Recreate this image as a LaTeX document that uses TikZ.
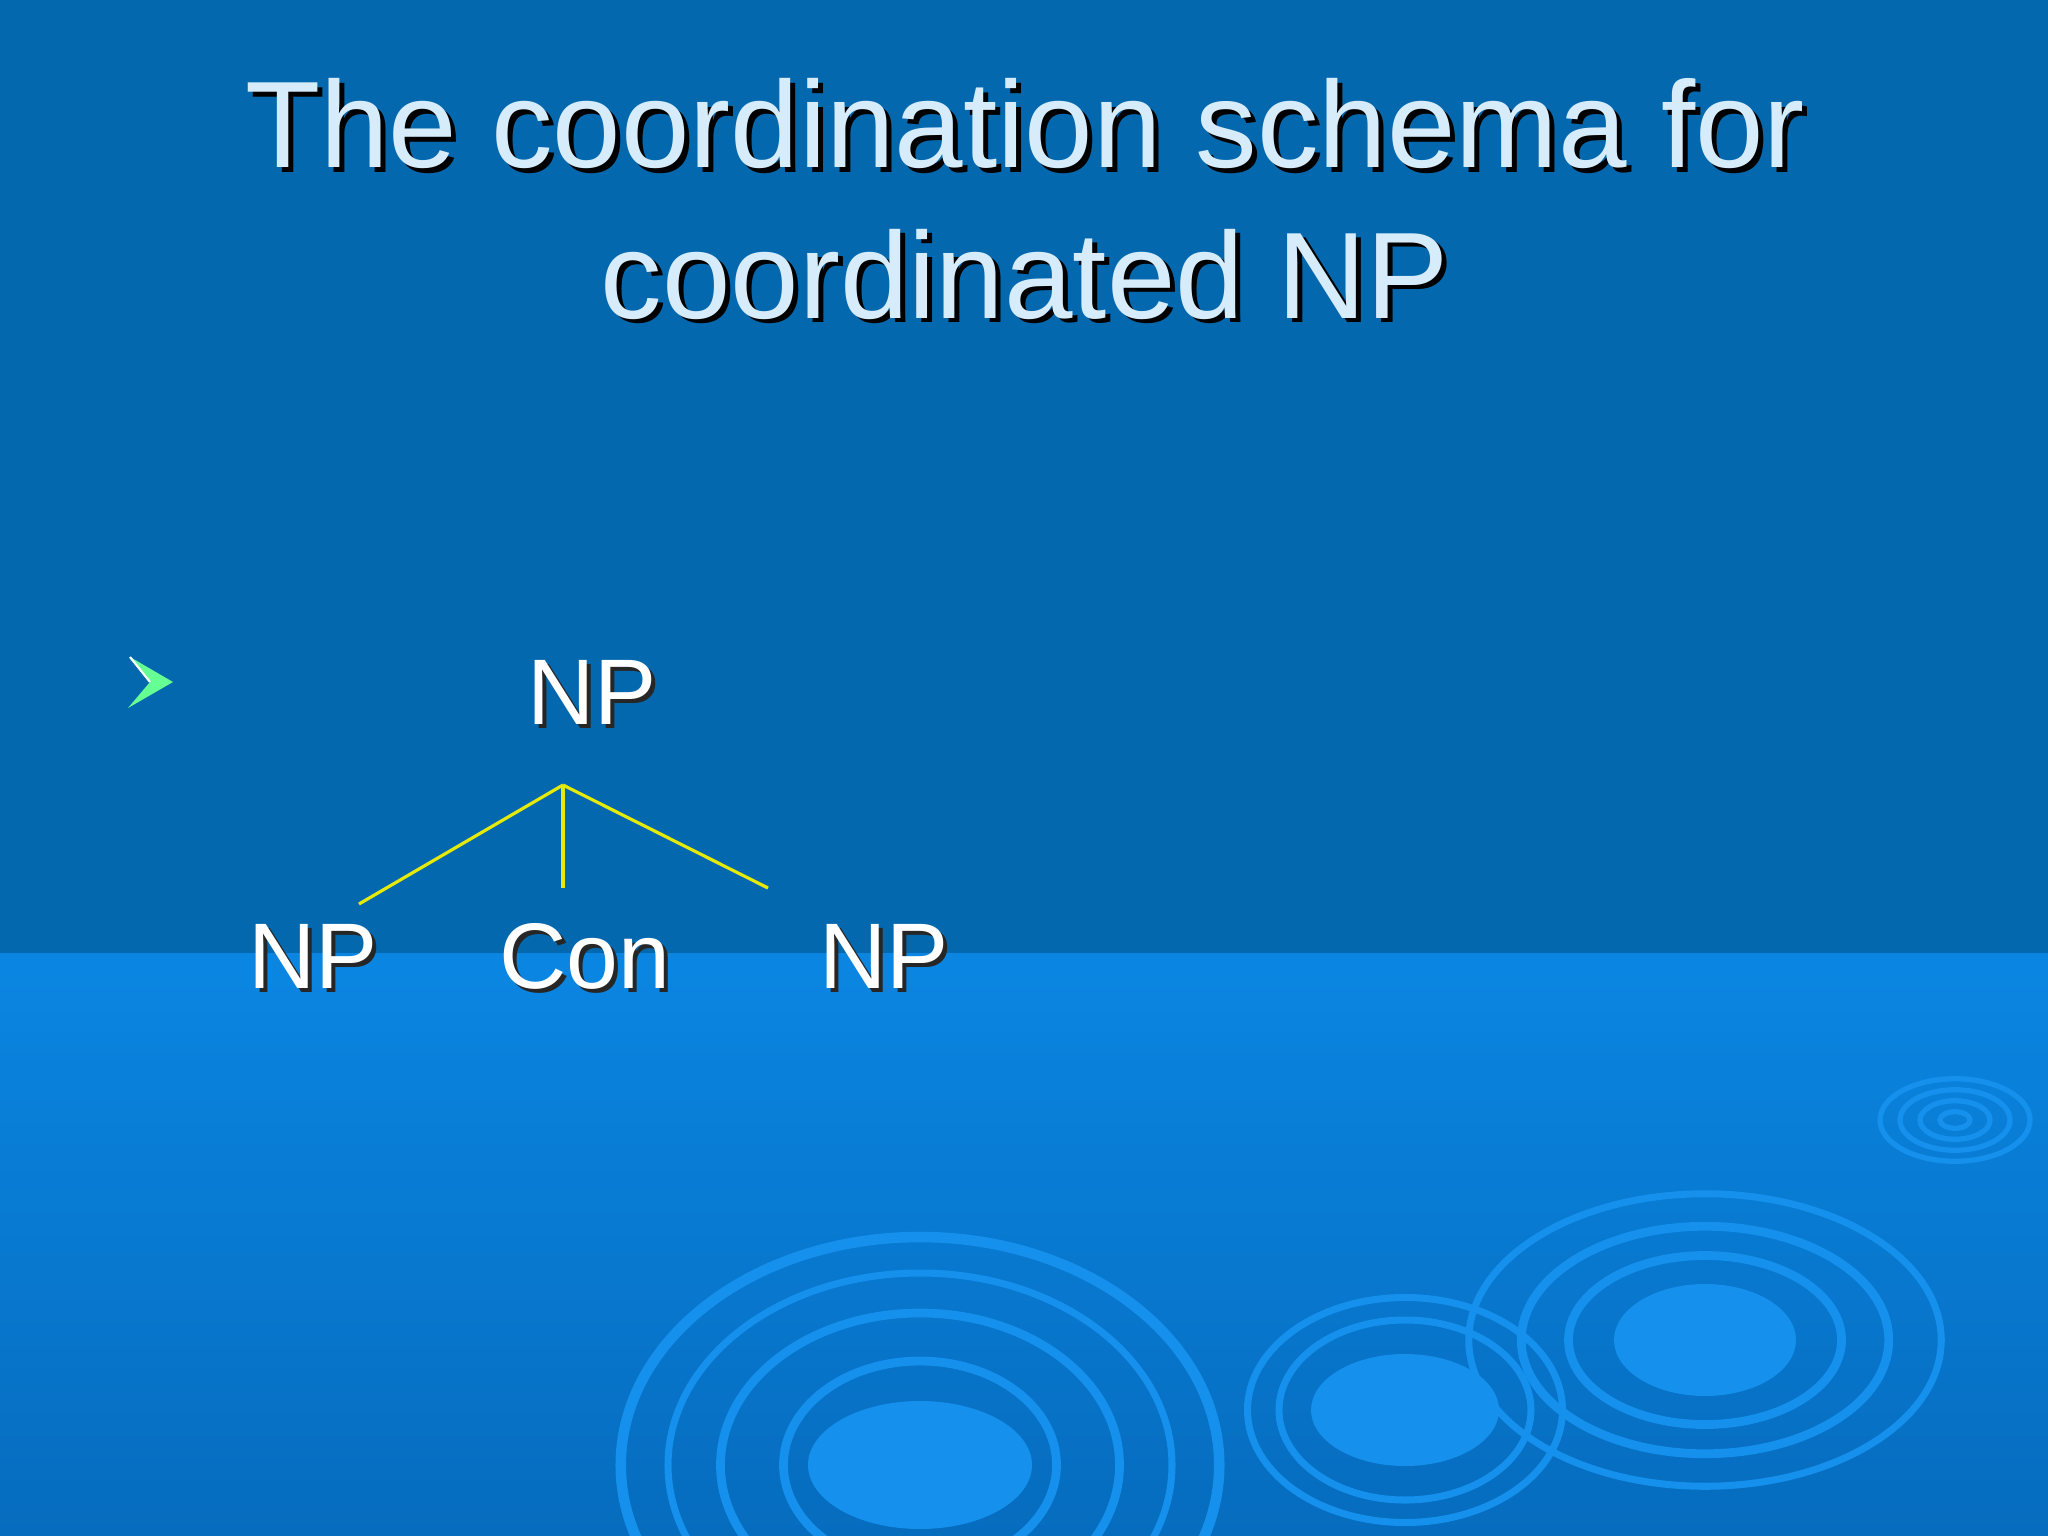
\documentclass[tikz,border=0pt]{standalone}
\usepackage{fontspec}
\setmainfont{Liberation Sans}
\begin{document}
\begin{tikzpicture}[x=0.01cm,y=-0.01cm,
  ttl/.style={text=titlec,font=\fontsize{35}{42}\selectfont},
  lab/.style={text=white,font=\fontsize{26.5}{32}\selectfont},
  shd/.style={text=black!85,font=\fontsize{26.5}{32}\selectfont},
  br/.style={draw=yellow!90!green,line width=0.9pt},
  rip/.style={draw=ripc}]
\definecolor{topc}{HTML}{0468AE}
\definecolor{botc}{HTML}{0A86E2}
\definecolor{botd}{HTML}{066CBE}
\definecolor{titlec}{HTML}{D6ECFA}
\definecolor{ripc}{HTML}{1590EC}
\useasboundingbox (0,0) rectangle (2048,1536);
\fill[topc] (0,0) rectangle (2048,953);
\shade[top color=botc,bottom color=botd] (0,953) rectangle (2048,1536);
% ripples
\begin{scope}
\clip (0,953) rectangle (2048,1536);
\fill[ripc] (920,1465) ellipse (112 and 64);
\foreach \r/\w in {130/2.5, 190/2.5, 240/2, 285/3}{
  \draw[rip,line width=\w pt] (920,1465) ellipse ({\r*1.05} and {\r*0.8});}
\fill[ripc] (1405,1410) ellipse (94 and 56);
\foreach \r/\w in {120/2, 150/2}{
  \draw[rip,line width=\w pt] (1405,1410) ellipse ({\r*1.05} and {\r*0.75});}
\fill[ripc] (1705,1340) ellipse (91 and 56);
\foreach \r/\w in {130/2.5, 175/2.5, 225/2}{
  \draw[rip,line width=\w pt] (1705,1340) ellipse ({\r*1.05} and {\r*0.65});}
\foreach \r in {15,35,55,75}{
  \draw[ripc,line width=1.5pt] (1955,1120) ellipse ({\r} and {\r*0.55});}
\end{scope}
% title
\foreach \t/\y in {{The coordination schema for}/124, {coordinated NP}/274}{
  \node[ttl,text=black] at (1030,\y+5) {\t};
  \node[ttl] at (1025,\y) {\t};}
% bullet
\fill[green!70!cyan!60] (130,657) -- (173,682) -- (128,708) -- (150,682) -- cycle;
\draw[white,line width=0.6pt] (130,657) -- (150,682);
% tree
\foreach \n/\t/\x/\y in {top/NP/592/692, l/NP/313/956, c/Con/585/956, r/NP/884/956}{
  \node[shd] at (\x+4,\y+4) {\t};
  \node[lab] (\n) at (\x,\y) {\t};}
\coordinate (p) at (563,785);
\coordinate (pl) at (359,904);
\coordinate (pc) at (563,888);
\coordinate (pr) at (768,888);
\draw[br] (p) -- (pl);
\draw[br] (p) -- (pc);
\draw[br] (p) -- (pr);
\end{tikzpicture}
\end{document}
